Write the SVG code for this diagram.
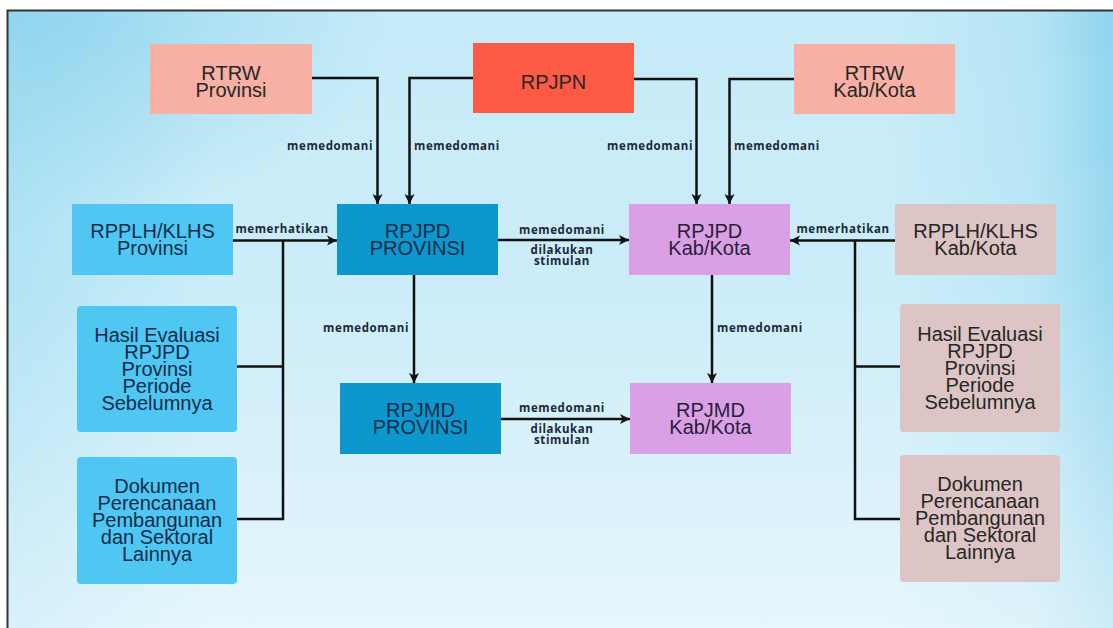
<svg xmlns="http://www.w3.org/2000/svg" width="1113" height="628" viewBox="0 0 1113 628">
<defs>
<linearGradient id="bgx" x1="0" y1="0" x2="1" y2="0">
<stop offset="0" stop-color="#a9e0f4"/>
<stop offset="0.18" stop-color="#c6ebf8"/>
<stop offset="0.8" stop-color="#c6ebf8"/>
<stop offset="0.93" stop-color="#b4e4f5"/>
<stop offset="1" stop-color="#8fd5ee"/>
</linearGradient>
<linearGradient id="bgy" x1="0" y1="0" x2="0" y2="1">
<stop offset="0" stop-color="#ffffff" stop-opacity="0"/>
<stop offset="0.45" stop-color="#ffffff" stop-opacity="0.1"/>
<stop offset="1" stop-color="#ffffff" stop-opacity="0.55"/>
</linearGradient>
<radialGradient id="tl" cx="0" cy="0" r="1" gradientUnits="objectBoundingBox" fx="0" fy="0">
<stop offset="0" stop-color="#8ed4ee" stop-opacity="0.9"/>
<stop offset="0.35" stop-color="#8ed4ee" stop-opacity="0"/>
</radialGradient>
<marker id="ah" markerUnits="userSpaceOnUse" markerWidth="12" markerHeight="12" refX="10" refY="5.5" orient="auto">
<path d="M0,0.5 L10,5.5 L0,10.5 L2.5,5.5 Z" fill="#111"/>
</marker>
</defs>
<style>
.box{stroke:none}
.pink{fill:#f8b0a5}
.red{fill:#fc5a44}
.lb{fill:#4fc7f2}
.db{fill:#0c97cd}
.lav{fill:#d9a0e5}
.beige{fill:#dcc5c4}
.t{font-family:"Liberation Sans",Arial,sans-serif;font-size:20px;text-anchor:middle}
.tk{fill:#262626}
.tn{fill:#0d2c4b}
.tv{fill:#2a1d3a}
.lbl{font-family:"Open Sans","Noto Sans",sans-serif;font-weight:700;font-size:11.5px;letter-spacing:0.6px;fill:#1b2838}
.c{fill:none;stroke:#111;stroke-width:2.5}
</style>
<rect width="1113" height="628" fill="#ffffff"/>
<rect x="8" y="11" width="1105" height="617" fill="url(#bgx)"/>
<rect x="8" y="11" width="1105" height="617" fill="url(#tl)"/>
<rect x="8" y="11" width="1105" height="617" fill="url(#bgy)"/>
<path d="M7.5,628 V10.5 H1113" fill="none" stroke="#333" stroke-width="2"/>

<g id="connectors">
<path class="c" d="M312,78 H377.5 V204" marker-end="url(#ah)"/>
<path class="c" d="M473,78 H409.5 V204" marker-end="url(#ah)"/>
<path class="c" d="M634,79 H696.5 V204" marker-end="url(#ah)"/>
<path class="c" d="M794,79 H729.5 V204" marker-end="url(#ah)"/>
<path class="c" d="M233,240.5 H337" marker-end="url(#ah)"/>
<path class="c" d="M283,240.5 V519 H237"/>
<path class="c" d="M237,366.5 H283"/>
<path class="c" d="M414,275 V383" marker-end="url(#ah)"/>
<path class="c" d="M498,240 H629" marker-end="url(#ah)"/>
<path class="c" d="M501,419 H630" marker-end="url(#ah)"/>
<path class="c" d="M712,275 V383" marker-end="url(#ah)"/>
<path class="c" d="M895,240.5 H790" marker-end="url(#ah)"/>
<path class="c" d="M855,240.5 V519 H900"/>
<path class="c" d="M855,366.5 H900"/>
<text class="lbl" x="373" y="149.5" text-anchor="end">memedomani</text>
<text class="lbl" x="414" y="149.5">memedomani</text>
<text class="lbl" x="693" y="149.5" text-anchor="end">memedomani</text>
<text class="lbl" x="734" y="149.5">memedomani</text>
<text class="lbl" x="282" y="232.5" text-anchor="middle">memerhatikan</text>
<text class="lbl" x="843" y="232.5" text-anchor="middle">memerhatikan</text>
<text class="lbl" x="409" y="331.5" text-anchor="end">memedomani</text>
<text class="lbl" x="717" y="331.5">memedomani</text>
<text class="lbl" x="562" y="233.5" text-anchor="middle">memedomani</text>
<text class="lbl" x="562" y="254" text-anchor="middle">dilakukan</text>
<text class="lbl" x="562" y="265" text-anchor="middle">stimulan</text>
<text class="lbl" x="562" y="412" text-anchor="middle">memedomani</text>
<text class="lbl" x="562" y="432.5" text-anchor="middle">dilakukan</text>
<text class="lbl" x="562" y="443.5" text-anchor="middle">stimulan</text>
</g>

<g id="rtrw-provinsi">
<rect class="box pink" x="150" y="44" width="162" height="70"/>
<text class="t tk" x="231" y="79.5"><tspan x="231">RTRW</tspan><tspan x="231" dy="17">Provinsi</tspan></text>
</g>
<g id="rpjpn">
<rect class="box red" x="473" y="43" width="161" height="70"/>
<text class="t tk" x="553.5" y="89">RPJPN</text>
</g>
<g id="rtrw-kabkota">
<rect class="box pink" x="794" y="44" width="161" height="70"/>
<text class="t tk" x="874.5" y="79.5"><tspan x="874.5">RTRW</tspan><tspan x="874.5" dy="17">Kab/Kota</tspan></text>
</g>
<g id="rpplh-provinsi">
<rect class="box lb" x="72" y="204" width="161" height="71"/>
<text class="t tn" x="152.5" y="237.5"><tspan x="152.5">RPPLH/KLHS</tspan><tspan x="152.5" dy="17">Provinsi</tspan></text>
</g>
<g id="rpjpd-provinsi">
<rect class="box db" x="337" y="204" width="161" height="71"/>
<text class="t tn" x="417.5" y="237.5"><tspan x="417.5">RPJPD</tspan><tspan x="417.5" dy="17">PROVINSI</tspan></text>
</g>
<g id="rpjpd-kabkota">
<rect class="box lav" x="629" y="204" width="161" height="71"/>
<text class="t tv" x="709.5" y="237.5"><tspan x="709.5">RPJPD</tspan><tspan x="709.5" dy="17">Kab/Kota</tspan></text>
</g>
<g id="rpplh-kabkota">
<rect class="box beige" x="895" y="204" width="161" height="71"/>
<text class="t tk" x="975.5" y="237.5"><tspan x="975.5">RPPLH/KLHS</tspan><tspan x="975.5" dy="17">Kab/Kota</tspan></text>
</g>
<g id="hasil-provinsi">
<rect class="box lb" x="77" y="306" width="160" height="126" rx="4"/>
<text class="t tn" x="157" y="342"><tspan x="157">Hasil Evaluasi</tspan><tspan x="157" dy="17">RPJPD</tspan><tspan x="157" dy="17">Provinsi</tspan><tspan x="157" dy="17">Periode</tspan><tspan x="157" dy="17">Sebelumnya</tspan></text>
</g>
<g id="rpjmd-provinsi">
<rect class="box db" x="340" y="383" width="161" height="71"/>
<text class="t tn" x="420.5" y="416.5"><tspan x="420.5">RPJMD</tspan><tspan x="420.5" dy="17">PROVINSI</tspan></text>
</g>
<g id="rpjmd-kabkota">
<rect class="box lav" x="630" y="383" width="161" height="71"/>
<text class="t tv" x="710.5" y="416.5"><tspan x="710.5">RPJMD</tspan><tspan x="710.5" dy="17">Kab/Kota</tspan></text>
</g>
<g id="hasil-kabkota">
<rect class="box beige" x="900" y="304" width="160" height="128" rx="4"/>
<text class="t tk" x="980" y="341"><tspan x="980">Hasil Evaluasi</tspan><tspan x="980" dy="17">RPJPD</tspan><tspan x="980" dy="17">Provinsi</tspan><tspan x="980" dy="17">Periode</tspan><tspan x="980" dy="17">Sebelumnya</tspan></text>
</g>
<g id="dokumen-provinsi">
<rect class="box lb" x="77" y="457" width="160" height="127" rx="4"/>
<text class="t tn" x="157" y="493"><tspan x="157">Dokumen</tspan><tspan x="157" dy="17">Perencanaan</tspan><tspan x="157" dy="17">Pembangunan</tspan><tspan x="157" dy="17">dan Sektoral</tspan><tspan x="157" dy="17">Lainnya</tspan></text>
</g>
<g id="dokumen-kabkota">
<rect class="box beige" x="900" y="455" width="160" height="127" rx="4"/>
<text class="t tk" x="980" y="491"><tspan x="980">Dokumen</tspan><tspan x="980" dy="17">Perencanaan</tspan><tspan x="980" dy="17">Pembangunan</tspan><tspan x="980" dy="17">dan Sektoral</tspan><tspan x="980" dy="17">Lainnya</tspan></text>
</g>
</svg>
